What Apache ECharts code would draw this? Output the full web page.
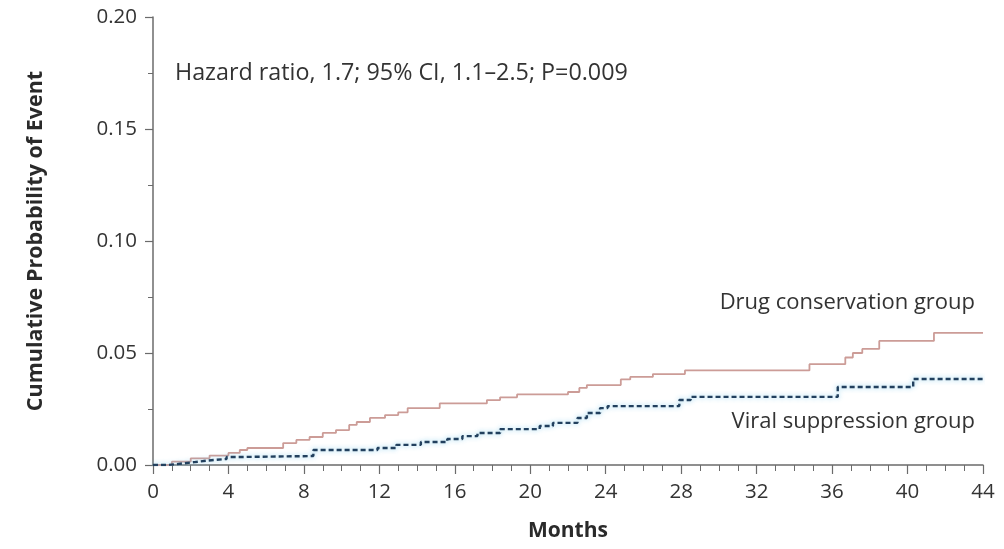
<!DOCTYPE html>
<html>
<head>
<meta charset="utf-8">
<script src="https://cdn.jsdelivr.net/npm/echarts@6/dist/echarts.min.js"></script>
<style>
  html, body { margin: 0; padding: 0; background: #ffffff; }
  #chart { width: 1004px; height: 549px; }
</style>
</head>
<body>
<div id="chart"></div>
<script>
// Kaplan-Meier event times (months) and cumulative probability after each event
const drugMonths = [0, 1, 2, 3, 4, 4.6, 5, 6.9, 7.6, 8.3, 9.0, 9.7, 10.4, 10.8, 11.5, 12.3, 13.0, 13.5, 15.2, 17.7, 18.4, 19.3, 22.0, 22.6, 23.0, 24.8, 25.3, 26.5, 28.2, 34.8, 36.7, 37.1, 37.6, 38.5, 41.4, 44];
const drugValues = [0, 0.0015, 0.003, 0.0042, 0.0054, 0.0067, 0.0076, 0.0098, 0.0112, 0.0125, 0.0143, 0.0156, 0.0179, 0.0192, 0.021, 0.0223, 0.0235, 0.0254, 0.0275, 0.029, 0.0302, 0.0315, 0.0326, 0.0344, 0.0357, 0.0382, 0.0393, 0.0406, 0.0422, 0.045, 0.048, 0.05, 0.0518, 0.0554, 0.059, 0.059];

const viralMonths = [0, 0.8, 1.6, 2.2, 2.9, 3.9, 4.8, 8.5, 11.9, 12.9, 14.2, 15.6, 16.4, 17.2, 18.4, 20.5, 21.2, 22.5, 23.0, 23.7, 24.1, 27.9, 28.5, 36.3, 40.3, 44];
const viralValues = [0, 0.0007, 0.0013, 0.002, 0.0027, 0.0036, 0.004, 0.0067, 0.0076, 0.009, 0.0103, 0.0116, 0.0129, 0.0143, 0.016, 0.0174, 0.0188, 0.021, 0.0232, 0.0254, 0.0263, 0.029, 0.0304, 0.0348, 0.0384, 0.0384];

const drugLabel = 'Drug conservation group';
const viralLabel = 'Viral suppression group';
const statsText = 'Hazard ratio, 1.7; 95% CI, 1.1\u20132.5; P=0.009';
const xTitle = 'Months';
const yTitle = 'Cumulative Probability of Event';

const pair = (xs, ys) => xs.map((x, i) => [x, ys[i]]);

const FONT = '"Open Sans", Lato, sans-serif';
const axisGray = '#6b6b6b';
const textGray = '#333333';

const chart = echarts.init(document.getElementById('chart'));
chart.setOption({
  backgroundColor: '#ffffff',
  animation: false,
  grid: { left: 153, right: 21, top: 17, bottom: 84, containLabel: false, outerBoundsMode: 'none' },
  xAxis: {
    type: 'value',
    min: 0, max: 44, interval: 4,
    name: xTitle,
    nameLocation: 'middle',
    nameGap: 56,
    nameTextStyle: { fontFamily: FONT, fontSize: 21, fontWeight: 'bold', color: '#2a2a2a' },
    axisLine: { show: true, lineStyle: { color: axisGray, width: 1.5 } },
    axisTick: { show: true, length: 9, lineStyle: { color: axisGray, width: 1.2 } },
    minorTick: { show: true, splitNumber: 4, length: 6, lineStyle: { color: axisGray, width: 1 } },
    axisLabel: { fontFamily: FONT, fontSize: 20.5, color: textGray, margin: 17 },
    splitLine: { show: false }
  },
  yAxis: {
    type: 'value',
    min: 0, max: 0.2, interval: 0.05,
    name: yTitle,
    nameLocation: 'middle',
    nameGap: 106,
    nameRotate: 90,
    nameTextStyle: { fontFamily: FONT, fontSize: 21.5, fontWeight: 'bold', color: '#2a2a2a' },
    axisLine: { show: true, lineStyle: { color: axisGray, width: 1.5 } },
    axisTick: { show: true, length: 8, lineStyle: { color: axisGray, width: 1.2 } },
    minorTick: { show: true, splitNumber: 2, length: 5, lineStyle: { color: axisGray, width: 1 } },
    axisLabel: { fontFamily: FONT, fontSize: 20.5, color: textGray, margin: 16, formatter: v => v.toFixed(2) },
    splitLine: { show: false }
  },
  series: [
    {
      name: drugLabel,
      type: 'line',
      step: 'end',
      symbol: 'none',
      data: pair(drugMonths, drugValues),
      lineStyle: { color: '#cc9c97', width: 1.8 },
      z: 3
    },
    {
      name: viralLabel,
      type: 'line',
      step: 'end',
      symbol: 'none',
      data: pair(viralMonths, viralValues),
      lineStyle: {
        color: '#22405e', width: 2.4, type: [5, 3],
        shadowColor: 'rgba(120,200,235,0.9)', shadowBlur: 5
      },
      z: 4
    }
  ],
  graphic: [
    {
      type: 'text', left: 175, top: 62,
      style: { text: statsText, fontFamily: FONT, fontSize: 23.3, fill: textGray }
    },
    {
      type: 'text', right: 29, top: 292,
      style: { text: drugLabel, fontFamily: FONT, fontSize: 22, fill: textGray, textAlign: 'right' }
    },
    {
      type: 'text', right: 29, top: 411,
      style: { text: viralLabel, fontFamily: FONT, fontSize: 22, fill: textGray, textAlign: 'right' }
    }
  ]
});
</script>
</body>
</html>
